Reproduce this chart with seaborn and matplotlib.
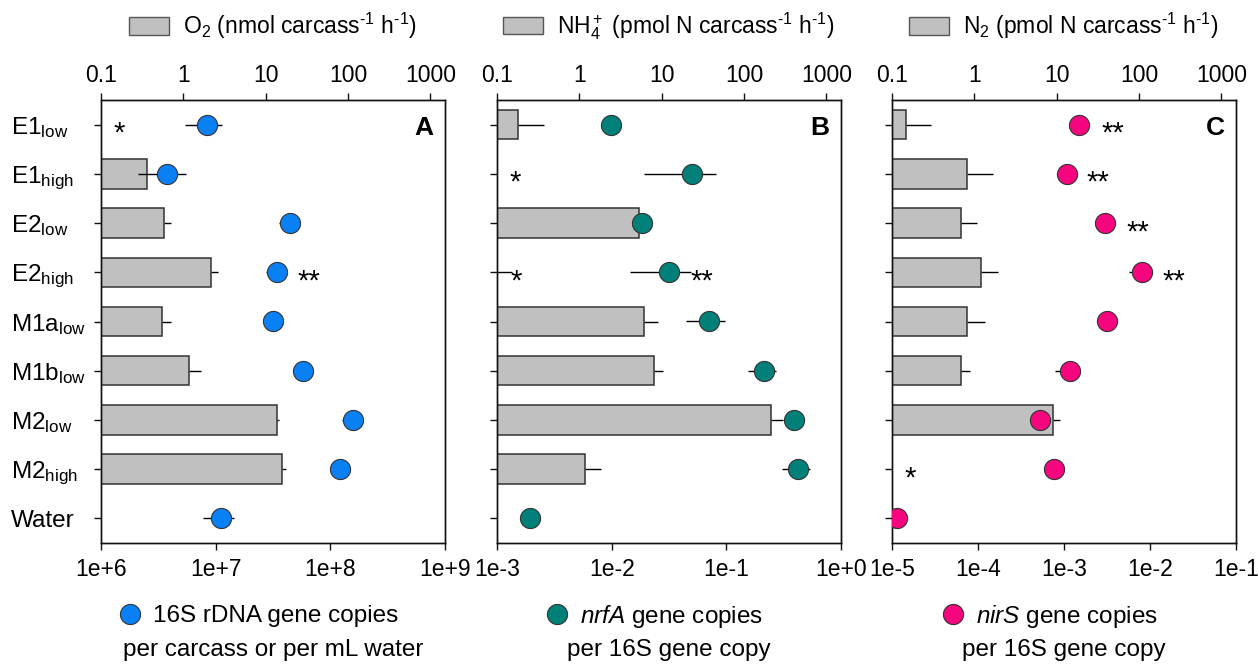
import numpy as np
import pandas as pd
import matplotlib
matplotlib.use("Agg")
import matplotlib.pyplot as plt
import seaborn as sns
from matplotlib.patches import Patch
from matplotlib.lines import Line2D
from matplotlib.ticker import NullLocator

nan = np.nan

# ---------------- data ----------------
samples = ["E1low", "E1high", "E2low", "E2high", "M1alow", "M1blow", "M2low", "M2high", "Water"]
sample_labels = [r"E1$_{\mathrm{low}}$", r"E1$_{\mathrm{high}}$", r"E2$_{\mathrm{low}}$",
                 r"E2$_{\mathrm{high}}$", r"M1a$_{\mathrm{low}}$", r"M1b$_{\mathrm{low}}$",
                 r"M2$_{\mathrm{low}}$", r"M2$_{\mathrm{high}}$", "Water"]

# Panel A: O2 consumption (bars, top axis) and 16S copies (dots, bottom axis)
o2_rate = [nan, 0.357, 0.575, 2.19, 0.544, 1.155, 13.6, 15.6, nan]
o2_rate_hi = [nan, nan, 0.705, 2.62, 0.705, 1.64, 14.6, 17.5, nan]
copies_16s = [8.35e6, 3.76e6, 4.42e7, 3.43e7, 3.18e7, 5.78e7, 1.57e8, 1.21e8, 1.11e7]
copies_16s_lo = [5.37e6, 2.12e6, 3.55e7, 2.75e7, nan, 4.72e7, 1.26e8, 9.87e7, 7.8e6]
copies_16s_hi = [1.13e7, 5.47e6, nan, nan, nan, nan, nan, nan, 1.45e7]

# Panel B: NH4+ production and nrfA per 16S
nh4_rate = [0.18, nan, 5.36, 0.05, 6.05, 8.15, 213, 1.155, nan]
nh4_rate_hi = [0.37, nan, nan, 0.15, 8.95, 10.3, 298, 1.84, nan]
nrfa = [0.00987, 0.0499, 0.0183, 0.0318, 0.070, 0.213, 0.386, 0.422, 0.00195]
nrfa_lo = [nan, 0.019, nan, 0.0145, 0.0448, 0.1545, nan, 0.306, nan]
nrfa_hi = [nan, 0.082, nan, 0.049, 0.0966, 0.273, nan, 0.54, nan]

# Panel C: N2 production and nirS per 16S
n2_rate = [0.147, 0.818, 0.686, 1.2, 0.818, 0.686, 8.95, nan, nan]
n2_rate_hi = [0.297, 1.66, 1.08, 1.91, 1.35, 0.88, 11.1, nan, nan]
nirs = [1.49e-3, 1.08e-3, 3.03e-3, 8.15e-3, 3.13e-3, 1.16e-3, 5.3e-4, 7.65e-4, 1.14e-5]
nirs_lo = [nan, nan, 2.31e-3, 5.7e-3, nan, 7.8e-4, nan, nan, nan]
nirs_hi = [nan, nan, nan, nan, nan, 1.55e-3, nan, nan, nan]

# significance marks: (text, position on rate axis, sample index)
stars_a = [("*", 0.164, 0), ("**", 32.9, 3)]
stars_b = [("*", 0.164, 1), ("*", 0.17, 3), ("**", 31.1, 3)]
stars_c = [("**", 47.7, 0), ("**", 31.4, 1), ("**", 96.0, 2), ("**", 262.0, 3), ("*", 0.167, 7)]

rate_ticks = [0.1, 1, 10, 100, 1000]
rate_ticklabels = ["0.1", "1", "10", "100", "1000"]
ticks_a = [1e6, 1e7, 1e8, 1e9]
ticklabels_a = ["1e+6", "1e+7", "1e+8", "1e+9"]
ticks_b = [1e-3, 1e-2, 1e-1, 1e0]
ticklabels_b = ["1e-3", "1e-2", "1e-1", "1e+0"]
ticks_c = [1e-5, 1e-4, 1e-3, 1e-2, 1e-1]
ticklabels_c = ["1e-5", "1e-4", "1e-3", "1e-2", "1e-1"]

HY = "\u2010"
rate_labels = [r"O$_2$ (nmol carcass$^{" + HY + r"1}$ h$^{" + HY + r"1}$)",
               r"NH$_4^+$ (pmol N carcass$^{" + HY + r"1}$ h$^{" + HY + r"1}$)",
               r"N$_2$ (pmol N carcass$^{" + HY + r"1}$ h$^{" + HY + r"1}$)"]
dot_labels1 = ["16S rDNA gene copies", r"$\mathit{nrfA}$ gene copies", r"$\mathit{nirS}$ gene copies"]
dot_labels2 = ["per carcass or per mL water", "per 16S gene copy", "per 16S gene copy"]
panel_letters = ["A", "B", "C"]
dot_colors = ["#0A80F5", "#008078", "#F5067E"]

# ---------------- style ----------------
sns.set_style("ticks")
plt.rcParams["font.family"] = ["Liberation Sans", "DejaVu Sans"]
plt.rcParams["mathtext.fontset"] = "custom"
plt.rcParams["mathtext.rm"] = "Liberation Sans"
plt.rcParams["mathtext.it"] = "Liberation Sans:italic"
plt.rcParams["mathtext.bf"] = "Liberation Sans:bold"
plt.rcParams["axes.edgecolor"] = "#111111"
plt.rcParams["axes.linewidth"] = 1.0
for k in ["text.color", "xtick.color", "ytick.color", "axes.labelcolor"]:
    plt.rcParams[k] = "black"

W, H = 1259, 664
fig = plt.figure(figsize=(W / 100, H / 100), dpi=100)

panels = [
    dict(rate=o2_rate, rate_hi=o2_rate_hi, dots=copies_16s, lo=copies_16s_lo, hi=copies_16s_hi,
         dlim=(1e6, 1e9), dticks=ticks_a, dticklabels=ticklabels_a, stars=stars_a, left=101),
    dict(rate=nh4_rate, rate_hi=nh4_rate_hi, dots=nrfa, lo=nrfa_lo, hi=nrfa_hi,
         dlim=(1e-3, 1e0), dticks=ticks_b, dticklabels=ticklabels_b, stars=stars_b, left=497),
    dict(rate=n2_rate, rate_hi=n2_rate_hi, dots=nirs, lo=nirs_lo, hi=nirs_hi,
         dlim=(1e-5, 1e-1), dticks=ticks_c, dticklabels=ticklabels_c, stars=stars_c, left=892),
]

ax_w_px, top_px, bot_px = 344, 100, 543
pos = np.arange(len(samples))
FS_TICK = 16.5
FS_TOP = 16.5
FS_BOT = 17.5

for i, p in enumerate(panels):
    ax = fig.add_axes([p["left"] / W, 1 - bot_px / H, ax_w_px / W, (bot_px - top_px) / H])
    ax.set_xscale("log")
    ax2 = ax.twiny()
    ax2.set_xscale("log")

    # bars (top axis)
    df_bar = pd.DataFrame({"sample": samples, "rate": p["rate"]}).dropna()
    sns.barplot(data=df_bar, x="rate", y="sample", order=samples, orient="h", ax=ax,
                color="#C0C0C0", saturation=1, edgecolor="#333333", linewidth=1.1,
                width=0.6, errorbar=None, zorder=2)
    rate = np.array(p["rate"], float)
    rhi = np.array(p["rate_hi"], float)
    m = ~np.isnan(rhi)
    ax.errorbar(rate[m], pos[m], xerr=[np.zeros(m.sum()), rhi[m] - rate[m]], fmt="none",
                ecolor="black", elinewidth=1.0, capsize=0, zorder=1.5)

    # dots (bottom axis)
    dots = np.array(p["dots"], float)
    lo = np.array(p["lo"], float)
    hi = np.array(p["hi"], float)
    lo_err = np.where(np.isnan(lo), 0, dots - lo)
    hi_err = np.where(np.isnan(hi), 0, hi - dots)
    ax2.errorbar(dots, pos, xerr=[lo_err, hi_err], fmt="none", ecolor="black",
                 elinewidth=1.0, capsize=0, zorder=2)
    df_dot = pd.DataFrame({"sample": samples, "value": dots})
    sns.stripplot(data=df_dot, x="value", y="sample", order=samples, orient="h", ax=ax2,
                  jitter=False, color=dot_colors[i], size=14.5, edgecolor="#333333",
                  linewidth=0.8, zorder=3)

    # axes formatting
    ax.set_xlim(0.1, 1500)
    ax2.set_xlim(*p["dlim"])
    ax.set_ylim(len(samples) - 0.5, -0.5)
    for a in (ax, ax2):
        a.set_xlabel("")
        a.set_ylabel("")
        a.xaxis.set_minor_locator(NullLocator())
        for s in a.spines.values():
            s.set_visible(True)
            s.set_color("#111111")
            s.set_linewidth(1.0)
    ax.xaxis.tick_top()
    ax.set_xticks(rate_ticks, rate_ticklabels)
    ax.tick_params(axis="x", which="major", top=True, bottom=False, labeltop=True,
                   labelbottom=False, direction="out", length=5, width=1.0,
                   labelsize=FS_TICK, pad=4, color="#111111")
    ax2.xaxis.tick_bottom()
    ax2.set_xticks(p["dticks"], p["dticklabels"])
    ax2.tick_params(axis="x", which="major", top=False, bottom=True, labeltop=False,
                    labelbottom=True, direction="out", length=5, width=1.0,
                    labelsize=FS_TICK, pad=6, color="#111111")
    ax.set_yticks(pos)
    if i == 0:
        ax.set_yticklabels(sample_labels)
        for t in ax.get_yticklabels():
            t.set_horizontalalignment("left")
    else:
        ax.set_yticklabels([""] * len(samples))
    ax.tick_params(axis="y", direction="out", length=5, width=1.0, labelsize=17.5, pad=60,
                   left=True, right=False, color="#111111")
    ax.grid(False)
    ax2.grid(False)

    # significance stars
    for txt, xv, yi in p["stars"]:
        ax2.annotate(txt, xy=(xv, yi), xycoords=ax.transData, xytext=(0, -6.5),
                     textcoords="offset points", ha="center", va="center", fontsize=21,
                     zorder=4)

    # panel letter
    ax2.text(0.939, 0.937, panel_letters[i], transform=ax.transAxes, fontsize=19,
             fontweight="bold", ha="center", va="center")

    # top legend (bars)
    cx = (p["left"] + ax_w_px / 2) / W
    fs_px = FS_TOP * 100 / 72
    fig.legend(handles=[Patch(facecolor="#C0C0C0", edgecolor="#555555", linewidth=1.0)],
               labels=[rate_labels[i]], loc="center", bbox_to_anchor=(cx, 1 - 26 / H),
               bbox_transform=fig.transFigure, frameon=False, fontsize=FS_TOP,
               handlelength=40 / fs_px, handleheight=18 / fs_px, handletextpad=14 / fs_px,
               borderpad=0, borderaxespad=0)

    # bottom legend (dots)
    cx2 = (p["left"] + ax_w_px / 2 - 15) / W
    fig.legend(handles=[Line2D([], [], ls="", marker="o", markersize=14.5,
                               markerfacecolor=dot_colors[i], markeredgecolor="#333333",
                               markeredgewidth=0.8)],
               labels=[dot_labels1[i]], loc="center", bbox_to_anchor=(cx2, 1 - 616 / H),
               bbox_transform=fig.transFigure, frameon=False, fontsize=FS_BOT,
               handlelength=1.0, handletextpad=0.45, borderpad=0, borderaxespad=0)
    fig.text(cx, 1 - 650 / H, dot_labels2[i], ha="center", va="center", fontsize=FS_BOT)

fig.savefig("out.png", dpi=100)
